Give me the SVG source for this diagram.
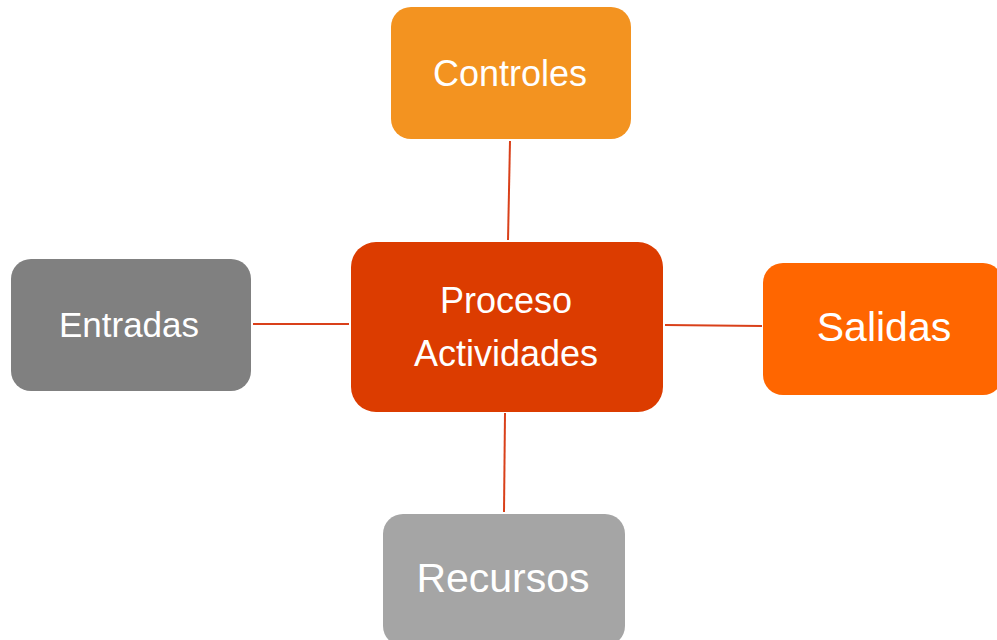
<svg xmlns="http://www.w3.org/2000/svg" width="997" height="640" viewBox="0 0 997 640">
  <style>
    .label { font-family: "Liberation Sans", Arial, sans-serif; fill: #ffffff; text-anchor: middle; }
    .link { stroke: #D9401A; stroke-width: 2; fill: none; }
  </style>
  <rect width="997" height="640" fill="#ffffff"/>

  <!-- connectors -->
  <g id="connectors">
    <line class="link" x1="510" y1="141" x2="508" y2="240"/>
    <line class="link" x1="253" y1="324" x2="349" y2="324"/>
    <line class="link" x1="665" y1="325" x2="762" y2="326"/>
    <line class="link" x1="505" y1="413" x2="504" y2="512"/>
  </g>

  <g id="controles">
    <rect x="391" y="7" width="240" height="132" rx="20" fill="#F39320"/>
    <text class="label" x="510" y="86" font-size="36">Controles</text>
  </g>

  <g id="proceso">
    <rect x="351" y="242" width="312" height="170" rx="25" fill="#DC3C00"/>
    <text class="label" x="506" y="313" font-size="36">Proceso</text>
    <text class="label" x="506" y="366" font-size="36">Actividades</text>
  </g>

  <g id="entradas">
    <rect x="11" y="259" width="240" height="132" rx="20" fill="#808080"/>
    <text class="label" x="129" y="337" font-size="35">Entradas</text>
  </g>

  <g id="salidas">
    <rect x="763" y="263" width="240" height="132" rx="20" fill="#FF6600"/>
    <text class="label" x="884" y="341" font-size="41">Salidas</text>
  </g>

  <g id="recursos">
    <rect x="383" y="514" width="242" height="132" rx="20" fill="#A5A5A5"/>
    <text class="label" x="503" y="592" font-size="41">Recursos</text>
  </g>
</svg>
